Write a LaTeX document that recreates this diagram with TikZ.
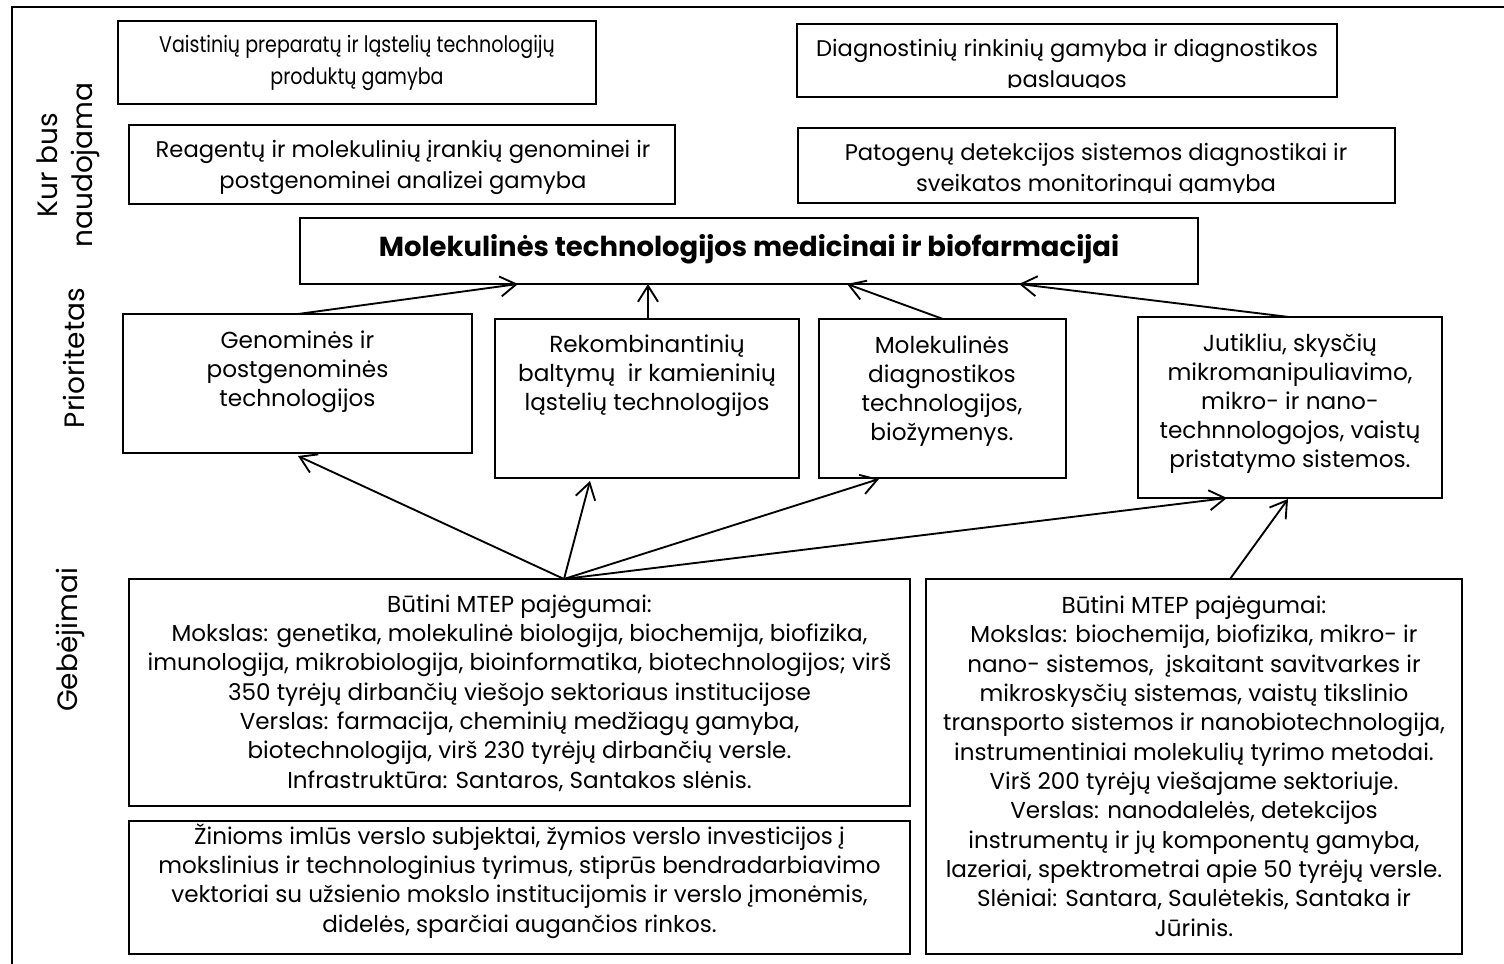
\documentclass[tikz,border=0pt]{standalone}
\usepackage{fontspec}
\setmainfont{Poppins}
\newfontfamily\condA[FakeStretch=0.84]{Poppins}
\usetikzlibrary{arrows.meta,fit}
\begin{document}
\begin{tikzpicture}[x=0.75pt,y=-0.75pt,
  box/.style={draw=black,line width=1pt,inner sep=0pt},
  txt/.style={align=center,inner sep=0pt},
  toptxt/.style={txt,font=\fontsize{17}{23.3}\selectfont},
  toptxtc/.style={txt,font=\condA\fontsize{17}{23.5}\selectfont},
  titletxt/.style={txt,font=\fontsize{20.6}{24}\selectfont\bfseries},
  pritxt/.style={txt,font=\fontsize{17.4}{21.8}\selectfont},
  bottxt/.style={txt,font=\fontsize{17.3}{22}\selectfont},
  sidetxt/.style={txt,font=\fontsize{21}{26}\selectfont,rotate=90},
  arr/.style={line width=1.4pt,-{Straight Barb[length=12pt,width=15pt,line width=1.4pt]}}]
\useasboundingbox (0,0) rectangle (1504,964);
\draw[line width=1.2pt] (12,964) -- (12,7) -- (1504,7);
% side labels
\node[sidetxt] (s1) at (68,165) {Kur bus\\naudojama};
\node[sidetxt] (s2) at (74,358) {Prioritetas};
\node[sidetxt] (s3) at (70,640) {Gebėjimai};
% top boxes
\node[box,fit={(118,21) (596,104)}] (t1) {};
\node[toptxtc] (t1t) at (357,63) {Vaistinių preparatų ir ląstelių technologijų\\produktų gamyba};
\node[box,fit={(797,24) (1337,97)}] (t2) {};
\begin{scope}
\clip (797,24) rectangle (1337,87);
\node[toptxt] (t2t) at (1067,66) {Diagnostinių rinkinių gamyba ir diagnostikos\\paslaugos};
\end{scope}
\node[box,fit={(129,125) (675,204)}] (t3) {};
\node[toptxt] (t3t) at (403,167.5) {Reagentų ir molekulinių įrankių genominei ir\\postgenominei analizei gamyba};
\node[box,fit={(798,128) (1395,203)}] (t4) {};
\begin{scope}
\clip (798,128) rectangle (1395,192);
\node[toptxt] (t4t) at (1096,170) {Patogenų detekcijos sistemos diagnostikai ir\\sveikatos monitoringui gamyba};
\end{scope}
% title
\node[box,fit={(300,218) (1198,284)}] (m) {};
\node[titletxt] (mt) at (749,249) {Molekulinės technologijos medicinai ir biofarmacijai};
% priority boxes
\node[box,fit={(123,314) (472,453)}] (p1) {};
\node[pritxt] (p1t) at (297.5,372) {Genominės ir\\postgenominės\\technologijos};
\node[box,fit={(495,319) (799,478)}] (p2) {};
\node[pritxt] (p2t) at (647,376) {Rekombinantinių\\baltymų\ \ ir kamieninių\\ląstelių technologijos};
\node[box,fit={(819,319) (1066,478)}] (p3) {};
\node[pritxt] (p3t) at (942,391) {Molekulinės\\diagnostikos\\technologijos,\\biožymenys.};
\node[box,fit={(1138,317) (1442,498)}] (p4) {};
\node[pritxt] (p4t) at (1290,404) {Jutikliu, skysčių\\mikromanipuliavimo,\\mikro- ir nano-\\technnologojos, vaistų\\pristatymo sistemos.};
% bottom boxes
\node[box,fit={(129,579) (910,806)}] (b1) {};
\node[bottxt] (b1t) at (519.5,693) {Būtini MTEP pajėgumai:\\Mokslas: genetika, molekulinė biologija, biochemija, biofizika,\\imunologija, mikrobiologija, bioinformatika, biotechnologijos; virš\\350 tyrėjų dirbančių viešojo sektoriaus institucijose\\Verslas: farmacija, cheminių medžiagų gamyba,\\biotechnologija, virš 230 tyrėjų dirbančių versle.\\Infrastruktūra: Santaros, Santakos slėnis.};
\node[box,fit={(129,821) (910,954)}] (b2) {};
\begin{scope}
\clip (129,821) rectangle (910,943);
\node[bottxt] (b2t) at (519.5,881) {Žinioms imlūs verslo subjektai, žymios verslo investicijos į\\mokslinius ir technologinius tyrimus, stiprūs bendradarbiavimo\\vektoriai su užsienio mokslo institucijomis ir verslo įmonėmis,\\didelės, sparčiai augančios rinkos.};
\end{scope}
\node[box,fit={(926,579) (1462,954)}] (b3) {};
\node[bottxt] (b3t) at (1194,766) {Būtini MTEP pajėgumai:\\Mokslas: biochemija, biofizika, mikro- ir\\nano- sistemos,\ \ įskaitant savitvarkes ir\\mikroskysčių sistemas, vaistų tikslinio\\transporto sistemos ir nanobiotechnologija,\\instrumentiniai molekulių tyrimo metodai.\\Virš 200 tyrėjų viešajame sektoriuje.\\Verslas: nanodalelės, detekcijos\\instrumentų ir jų komponentų gamyba,\\lazeriai, spektrometrai apie 50 tyrėjų versle.\\Slėniai: Santara, Saulėtekis, Santaka ir\\Jūrinis.};
% arrow anchor coordinates
\coordinate (m1) at (518,284);
\coordinate (m2) at (648,284);
\coordinate (m3) at (847,284);
\coordinate (m4) at (1019,284);
\coordinate (p1top) at (298,314);
\coordinate (p2top) at (648,319);
\coordinate (p3top) at (943,319);
\coordinate (p4top) at (1289,317);
\coordinate (p1bot) at (298,456);
\coordinate (p2bot) at (590,481);
\coordinate (p3bot) at (879,479);
\coordinate (p4bot) at (1227,498);
\coordinate (p4bot2) at (1288,499);
\coordinate (b1top) at (564,579);
\coordinate (b3top) at (1230,579);
\draw[arr] (p1top) -- (m1);
\draw[arr] (p2top) -- (m2);
\draw[arr] (p3top) -- (m3);
\draw[arr] (p4top) -- (m4);
\draw[arr] (b1top) -- (p1bot);
\draw[arr] (b1top) -- (p2bot);
\draw[arr] (b1top) -- (p3bot);
\draw[arr] (b1top) -- (p4bot);
\draw[arr] (b3top) -- (p4bot2);
\end{tikzpicture}
\end{document}
